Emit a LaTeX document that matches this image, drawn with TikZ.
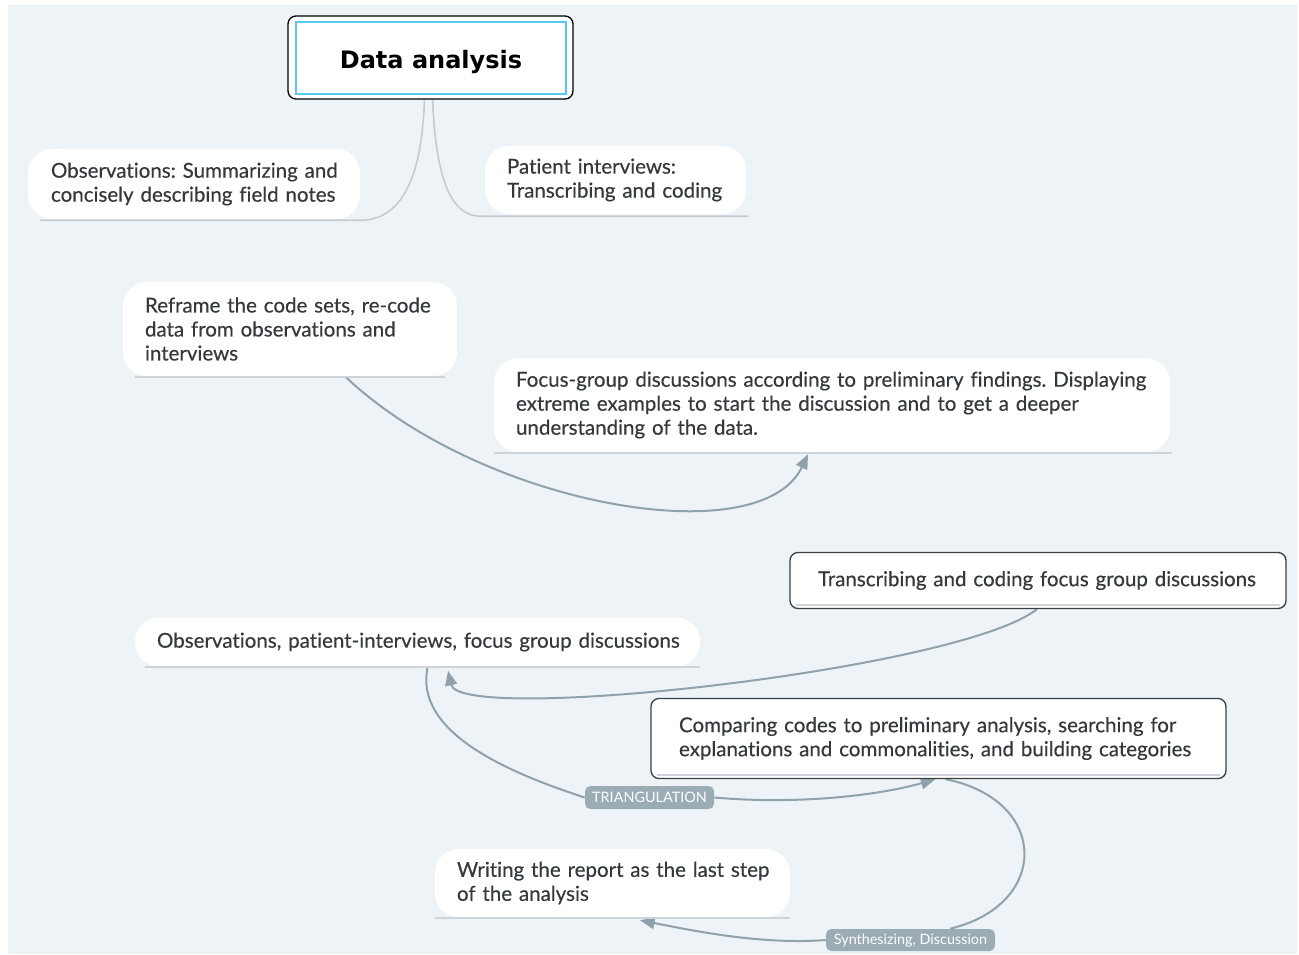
\documentclass[tikz,border=0pt]{standalone}
\usepackage{fontspec}
\setmainfont{Lato}[Ligatures=NoCommon]
\newfontfamily\bodyf{Lato}[FakeBold=0.35,Ligatures=NoCommon]
\newfontfamily\titlefont{DejaVu Sans}
\usetikzlibrary{arrows.meta,calc}
\pgfdeclarelayer{bgl}
\pgfdeclarelayer{conl}
\pgfsetlayers{bgl,conl,main}
\definecolor{bg}{HTML}{EEF3F7}
\definecolor{txt}{HTML}{34393E}
\definecolor{arr}{HTML}{8FA2AC}
\definecolor{lbl}{HTML}{9BACB5}
\definecolor{uline}{HTML}{CDD3D8}
\definecolor{stemc}{HTML}{C6CBD0}
\definecolor{cyanb}{HTML}{5AC8F5}
\definecolor{rectb}{HTML}{3A3F44}
\tikzset{
  pill/.style={fill=white, rounded corners=18pt, text=txt, font=\bodyf\frenchspacing\fontsize{15.4}{18}\selectfont, align=left, inner ysep=0pt},
  boxr/.style={fill=white, draw=rectb, line width=1pt, rounded corners=6pt, text=txt, font=\bodyf\frenchspacing\fontsize{15.4}{18}\selectfont, align=left, inner ysep=0pt},
  dims/.style n args={4}{minimum width=#1, minimum height=#2, inner xsep=#3, text width=#4},
  conn/.style={draw=arr, line width=1.5pt},
  arrowed/.style={conn, -{Triangle[length=11pt,width=9pt]}},
  tag/.style={fill=lbl, rounded corners=4pt, text=white, font=\fontsize{10.8}{12}\selectfont, inner sep=0pt},
  uline/.style={draw=uline, line width=1.2pt},
  stem/.style={draw=stemc, line width=1.2pt}
}
\begin{document}
\begin{tikzpicture}[x=0.75pt,y=-0.75pt]
\useasboundingbox (0,0) rectangle (1299,954);
\begin{pgfonlayer}{bgl}
\fill[white] (0,0) rectangle (1299,954);
\fill[bg] (8,5) rectangle (1297,954);
\end{pgfonlayer}

% title
\node[draw=black, rounded corners=6pt, line width=1pt, fill=white, minimum width=213.75pt, minimum height=62.25pt] (titleo) at (430.5,57.5) {};
\node[draw=cyanb, line width=1.5pt, fill=white, minimum width=202.5pt, minimum height=54pt, font=\titlefont\bfseries\fontsize{18}{22}\selectfont] (title) at (431,58) {\raisebox{-8pt}[0pt][0pt]{Data analysis}};

% pills and boxes
\node[pill, dims={249pt}{52.5pt}{17.25pt}{214.5pt}] (obs) at (194,184)
  {\mbox{Observations: Summarizing and}\\\mbox{concisely describing field notes}};
\node[pill, dims={195.75pt}{51pt}{16.5pt}{162.75pt}] (pat) at (615.5,180)
  {\mbox{Patient interviews:}\\\mbox{Transcribing and coding}};
\node[pill, dims={250.5pt}{70.5pt}{16.5pt}{217.5pt}] (reframe) at (290,329)
  {\mbox{Reframe the code sets, re-code}\\\mbox{data from observations and}\\\mbox{interviews}};
\node[pill, dims={507pt}{70.5pt}{16.5pt}{474pt}] (focus) at (832,405)
  {\mbox{Focus-group discussions according to preliminary findings. Displaying}\\\mbox{extreme examples to start the discussion and to get a deeper}\\\mbox{understanding of the data.}};
\node[boxr, dims={372pt}{42pt}{21pt}{330pt}] (trans) at (1038,580.5)
  {\mbox{Transcribing and coding focus group discussions}};
\node[pill, dims={423.75pt}{36.75pt}{16.5pt}{390.75pt}] (list) at (417.5,642)
  {\mbox{Observations, patient-interviews, focus group discussions}};
\node[boxr, dims={431.25pt}{60pt}{21pt}{389.25pt}] (comp) at (938.5,738.5)
  {\mbox{Comparing codes to preliminary analysis, searching for}\\\mbox{explanations and commonalities, and building categories}};
\node[pill, dims={266.25pt}{51pt}{16.5pt}{233.25pt}] (write) at (612.5,883)
  {\mbox{Writing the report as the last step}\\\mbox{of the analysis}};

% tags
\node[tag, minimum width=96.75pt, minimum height=17.25pt] (tri) at (649.5,797.5) {TRIANGULATION};
\node[tag, minimum width=126.75pt, minimum height=16.5pt] (syn) at (910.5,940) {Synthesizing, Discussion};

% underlines
\draw[uline] ([xshift=9pt,yshift=-0.75pt]reframe.south west) -- ([xshift=-9pt,yshift=-0.75pt]reframe.south east);
\draw[uline] ([yshift=-0.75pt]focus.south west) -- ([xshift=1.5pt,yshift=-0.75pt]focus.south east);
\draw[uline] ([xshift=7.5pt]list.south west) -- (list.south east);
\draw[uline] ([yshift=-0.75pt]write.south west) -- ([yshift=-0.75pt]write.south east);
\draw[uline] ([xshift=5pt,yshift=3pt]trans.south west) -- ([xshift=-5pt,yshift=3pt]trans.south east);
\draw[uline] ([xshift=5pt,yshift=3pt]comp.south west) -- ([xshift=-5pt,yshift=3pt]comp.south east);

\begin{pgfonlayer}{conl}
% stems from title
\draw[stem] ([xshift=-4.5pt,yshift=1.5pt]titleo.south) .. controls (422,190) and (395,219) .. ([xshift=1.5pt,yshift=-0.75pt]obs.south east) -- ([xshift=9pt,yshift=-0.75pt]obs.south west);
\draw[stem] ([xshift=1.5pt,yshift=1.5pt]titleo.south) .. controls (436,190) and (455,215) .. ([xshift=-3.75pt,yshift=-1.5pt]pat.south west) -- ([xshift=1.5pt,yshift=-1.5pt]pat.south east);

% connectors
\draw[arrowed] ([xshift=41.25pt]reframe.south) .. controls (480,505) and (760,555) .. ([xshift=-18pt,yshift=-1.5pt]focus.south);
\draw[arrowed] ([xshift=-0.75pt]trans.south) .. controls (960,670) and (460,725) .. ([xshift=22.9pt,yshift=-3pt]list.south);
\draw[conn] ([xshift=7.5pt,yshift=-0.75pt]list.south) .. controls (415,730) and (500,770) .. (tri.west);
\draw[arrowed] (tri.east) .. controls (800,805) and (880,795) .. ([xshift=-2.25pt]comp.south);
\draw[conn] ([xshift=5.25pt]comp.south) .. controls (1050,800) and (1050,905) .. ([xshift=29.6pt]syn.north);
\draw[arrowed] (syn.west) .. controls (760,945) and (690,930) .. ([xshift=20.6pt,yshift=-2.25pt]write.south);
\end{pgfonlayer}
\end{tikzpicture}
\end{document}
